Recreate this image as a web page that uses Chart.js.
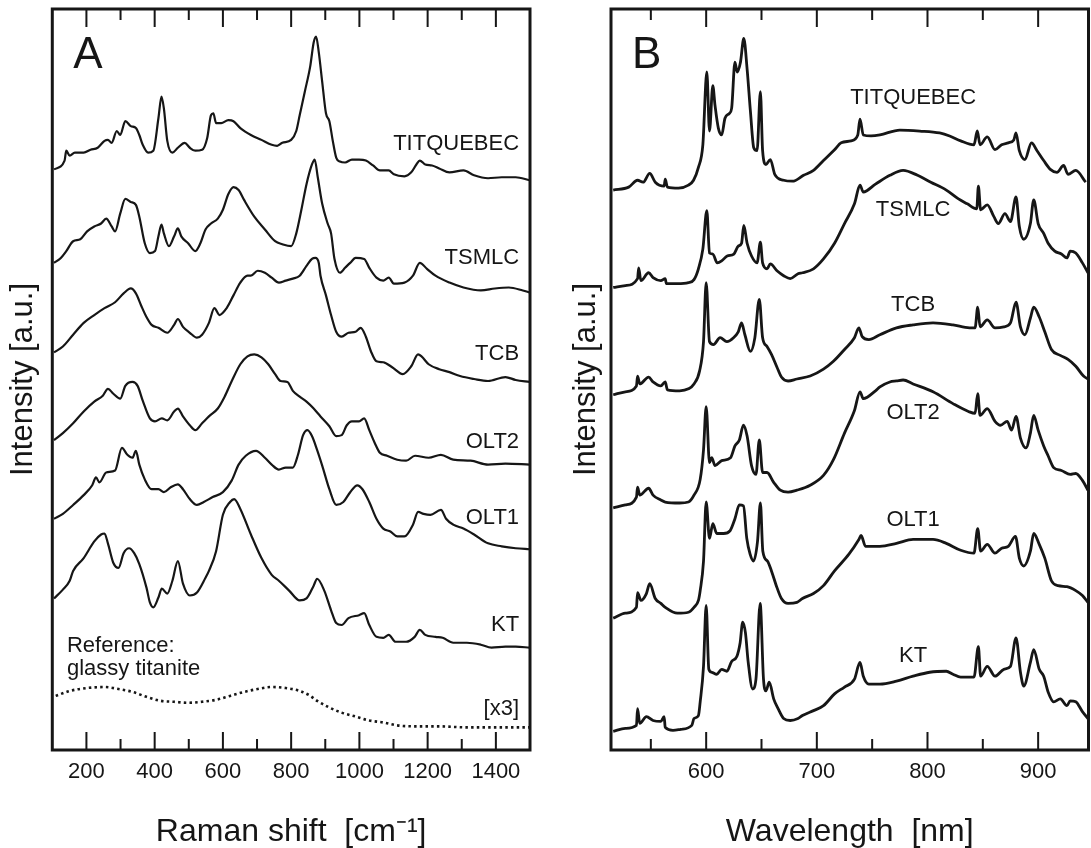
<!DOCTYPE html>
<html>
<head>
<meta charset="utf-8">
<title>Raman / PL spectra of titanite</title>
<script src="https://cdn.jsdelivr.net/npm/chart.js@4.4.0/dist/chart.umd.min.js"></script>
<style>
  html, body { margin: 0; padding: 0; background: #fff; }
  #wrap { position: relative; width: 1091px; height: 848px; }
  #chartA { position: absolute; left: 0; top: 0; }
  #chartB { position: absolute; left: 560px; top: 0; }
</style>
</head>
<body>
<div id="wrap">
  <canvas id="chartA" width="560" height="848"></canvas>
  <canvas id="chartB" width="531" height="848"></canvas>
</div>
<script>
/* ── panel A : Raman shift [cm-1] vs stacked intensity ── */
const ramanMajorTicks = [200, 400, 600, 800, 1000, 1200, 1400];
const ramanMinorTicks = [300, 500, 700, 900, 1100, 1300];

const ramanTitquebec = [[105,590],[136,599],[141,609],[151,604],[166,607],[192,607],[212,610],[233,612],[253,619],[263,620],[274,617],[289,629],[299,625],[314,639],[330,634],[345,632],[355,625],[365,615],[381,607],[396,609],[411,642],[420,664],[427,652],[437,619],[452,607],[468,612],[488,617],[503,612],[519,609],[539,610],[554,622],[565,645],[572,647],[580,637],[595,637],[616,640],[631,639],[651,632],[682,625],[713,620],[743,615],[759,614],[774,617],[800,620],[815,629],[825,645],[840,669],[856,695],[866,719],[873,725],[881,709],[891,679],[902,647],[912,639],[922,619],[932,602],[943,598],[958,597],[978,600],[999,600],[1019,599],[1040,594],[1060,589],[1086,589],[1101,585],[1132,583],[1152,587],[1167,595],[1177,599],[1193,595],[1213,594],[1234,591],[1264,587],[1305,589],[1336,584],[1377,581],[1417,582],[1458,582],[1499,579]];
const ramanTsmlc = [[105,495],[125,500],[141,507],[161,517],[182,519],[202,527],[223,532],[243,535],[258,540],[274,532],[284,527],[299,545],[314,560],[330,557],[345,554],[355,542],[371,515],[386,505],[401,507],[411,522],[420,534],[427,525],[442,512],[457,522],[468,530],[478,522],[498,515],[519,507],[534,515],[549,529],[565,535],[585,540],[600,549],[616,565],[631,572],[646,569],[662,559],[692,542],[723,529],[753,517],[774,514],[800,512],[815,525],[830,549],[845,575],[861,595],[869,600],[878,582],[891,555],[907,535],[917,525],[927,499],[943,485],[958,490],[973,495],[989,500],[1014,499],[1029,490],[1050,480],[1070,477],[1086,480],[1101,474],[1132,475],[1157,482],[1177,495],[1198,489],[1223,482],[1264,475],[1305,470],[1356,467],[1397,469],[1438,470],[1479,467],[1499,465]];
const ramanTcb = [[105,404],[131,410],[161,422],[192,434],[223,442],[253,449],[284,455],[309,464],[330,469],[345,464],[360,452],[376,440],[391,432],[411,429],[437,424],[457,432],[468,438],[483,430],[503,424],[524,419],[539,422],[559,434],[575,449],[590,442],[611,449],[631,462],[651,475],[672,482],[682,482],[702,487],[723,485],[743,480],[764,475],[784,477],[805,479],[825,482],[845,492],[861,499],[871,500],[881,495],[886,482],[902,462],[917,442],[932,425],[948,420],[968,424],[989,425],[1004,429],[1019,420],[1034,405],[1050,395],[1070,394],[1096,389],[1127,382],[1152,390],[1172,402],[1182,400],[1203,392],[1234,387],[1264,384],[1295,380],[1336,377],[1377,375],[1428,379],[1458,376],[1499,374]];
const ramanOlt2 = [[105,315],[131,322],[161,332],[192,344],[223,354],[248,360],[263,367],[279,362],[299,357],[314,370],[335,374],[350,370],[365,355],[386,337],[401,334],[421,337],[437,335],[457,344],[468,347],[483,339],[503,330],[519,325],[539,332],[559,339],[585,347],[605,359],[626,375],[651,392],[672,400],[692,402],[713,399],[733,392],[753,382],[769,375],[789,374],[805,365],[825,359],[845,354],[866,347],[886,339],[912,329],[932,319],[948,320],[963,330],[978,334],[999,334],[1014,337],[1029,325],[1045,312],[1060,302],[1081,299],[1111,295],[1137,294],[1163,299],[1203,297],[1239,300],[1275,295],[1326,294],[1377,290],[1428,291],[1499,290]];
const ramanOlt1 = [[105,235],[131,240],[161,249],[192,259],[217,269],[228,277],[238,272],[258,282],[284,284],[304,307],[320,300],[335,297],[345,304],[355,290],[371,275],[391,265],[411,265],[427,262],[447,267],[468,270],[483,265],[503,255],[524,249],[544,252],[570,257],[600,262],[626,274],[646,290],[667,299],[697,304],[723,297],[743,290],[764,285],[784,287],[805,287],[820,300],[835,320],[848,325],[861,319],[876,305],[891,289],[912,265],[932,249],[953,252],[973,262],[994,269],[1009,265],[1029,252],[1050,235],[1070,225],[1091,222],[1111,217],[1132,217],[1157,229],[1172,242],[1188,240],[1208,239],[1239,244],[1254,235],[1275,229],[1305,225],[1336,219],[1377,210],[1417,207],[1458,205],[1499,204]];
const ramanKt = [[105,154],[131,163],[151,172],[161,182],[192,195],[223,212],[243,219],[253,220],[263,210],[279,190],[294,185],[309,200],[325,205],[340,200],[355,189],[376,165],[386,150],[396,145],[411,155],[421,164],[437,159],[452,172],[468,192],[483,169],[503,157],[524,160],[549,175],[559,182],[580,202],[600,239],[621,252],[633,255],[651,245],[682,219],[713,195],[743,178],[764,172],[794,162],[825,152],[845,154],[866,167],[876,174],[897,162],[917,142],[932,129],[948,127],[968,134],[999,137],[1014,139],[1029,127],[1050,115],[1070,114],[1086,117],[1106,110],[1137,110],[1162,115],[1177,122],[1193,117],[1223,115],[1244,114],[1275,109],[1315,109],[1356,107],[1387,104],[1428,105],[1458,105],[1499,104]];
const ramanGlassyRef = [[110,55],[151,60],[202,63],[253,64],[294,62],[335,59],[376,54],[417,50],[457,49],[498,48],[539,49],[580,51],[621,55],[662,59],[702,62],[743,64],[784,63],[825,60],[856,55],[876,50],[907,44],[948,38],[989,34],[1029,30],[1070,28],[1111,25],[1172,24],[1234,24],[1315,23],[1397,23],[1499,23]];

/* ── panel B : wavelength [nm] ── */
const waveMajorTicks = [600, 700, 800, 900];
const waveMinorTicks = [550, 650, 750, 850];

const waveTitquebec = [[516,569],[530,572],[538,579],[543,577],[549,586],[554,577],[562,573],[563,580],[565,572],[575,571],[584,574],[588.6,579],[593,592],[597,615],[600.6,689],[603,629],[606,675],[608,655],[611,632],[614,625],[617,642],[621,647],[623,652],[626,699],[628,689],[631,699],[634,723],[637,692],[640,649],[643,612],[646,609],[649,669],[651,609],[654,595],[658,600],[662,585],[670,579],[678,578],[688,584],[697,589],[706,599],[716,610],[722,617],[731,619],[737,625],[739,641],[742,625],[749,624],[757,625],[775,630],[793,629],[811,627],[820,624],[830,619],[842,615],[845,629],[847.5,615],[854,623],[861,610],[867,615],[873,617],[878,620],[880,627],[883,609],[888,600],[894,617],[899,609],[905,599],[911,590],[917,587],[923,594],[927,585],[934,589],[943,577]];
const waveTsmlc = [[516,470],[527,472],[538,479],[539,490],[541,477],[548,485],[552,480],[559,477],[563,479],[564,474],[574,474],[584,475],[589,478],[593,489],[597,509],[600.6,548],[603,505],[606,504],[610,495],[614,497],[619,502],[625,504],[629,512],[632,515],[634,533],[637,515],[641,502],[646,495],[649,516],[651,495],[655,489],[658,494],[664,487],[670,482],[676,479],[683,484],[687,485],[697,489],[706,499],[716,515],[725,535],[734,555],[739,574],[742,567],[753,575],[766,584],[778,589],[791,584],[803,577],[817,569],[828,560],[836,555],[844.5,550],[846,573],[848,549],[854,554],[860,542],[864,535],[870,545],[875,537],[880,562],[883,532],[887,519],[893,535],[896,559],[900,535],[905,525],[909,515],[915,507],[921,504],[926,500],[929,507],[934,505],[940,495],[945,485]];
const waveTcb = [[516,361],[527,364],[537,370],[538,380],[540,372],[548,379],[552,374],[559,370],[563,374],[565,366],[576,365],[584,367],[589,372],[594,385],[597.6,415],[600,475],[603,415],[606.6,412],[612.6,419],[618.7,415],[624.7,419],[629,425],[632,434],[635,422],[640,405],[644,419],[648,458],[651,419],[655,410],[659,402],[664,389],[668,379],[674,375],[682,377],[694,380],[706,387],[715,395],[725,407],[734,419],[738,429],[741,420],[747,417],[757,422],[772,429],[787,432],[805,434],[823,432],[838,429],[843,429],[845.4,450],[847.5,430],[854,437],[861,429],[869,430],[875,434],[880,455],[884,430],[888,422],[893,439],[896,450],[901,440],[906,425],[912,407],[920,401],[927,397],[934,390],[941,380],[945,377]];
const waveOlt2 = [[516,246],[527,249],[537,257],[538,267],[540,259],[548,266],[552,259],[559,254],[563,252],[576,251],[584,252],[589,259],[594.6,275],[597.6,305],[600,349],[603,292],[605,297],[608,289],[614,294],[622,297],[626,309],[630,315],[633.7,330],[637,319],[641,289],[645,280],[648,315],[651,282],[655,282],[661,272],[667,264],[674,262],[682,264],[694,269],[706,279],[715,295],[725,322],[734,345],[739,364],[742,357],[753,365],[757,369],[766,374],[772,375],[778,376],[787,372],[805,364],[823,352],[837,344],[843,342],[845.4,362],[847.5,340],[854,347],[861,334],[866,330],[872,334],[876,325],[880,339],[884,317],[889,307],[893,322],[896,340],[900,325],[905,309],[909,299],[914,287],[921,284],[929,280],[934,281],[940,274],[945,264]];
const waveOlt1 = [[516,134],[527,139],[537,145],[538,160],[541,152],[546,159],[549,169],[554,154],[559,149],[563,145],[574,139],[584,140],[589,145],[593,152],[594.6,162],[597.6,192],[600,252],[603,215],[606,230],[609.6,220],[615.7,220],[621.7,223],[626,235],[630,249],[633.7,248],[636.7,215],[639.7,199],[642.8,192],[646.4,212],[649,251],[651.2,202],[655.4,192],[659,182],[664,165],[668,154],[674,149],[682,150],[687,154],[697,159],[706,167],[716,182],[729,199],[738,214],[740,218],[744,207],[757,207],[772,210],[787,214],[805,214],[817,210],[830,203],[842,200],[845.4,225],[848,202],[854,209],[861,200],[867,205],[873,207],[879.5,217],[883,195],[887,187],[893,202],[896,220],[901,209],[906,195],[912,172],[918,167],[926,166],[934,162],[940,157],[945,150]];
const waveKt = [[516,19],[527,22],[537,25],[538,42],[540,27],[546,34],[552,30],[559,29],[562,34],[563,23],[570,20],[577,21],[587,25],[589,32],[593,35],[594.6,49],[597.6,85],[600,147],[602.4,82],[605,79],[609.6,77],[614,82],[618.7,80],[623,90],[627.7,95],[630.7,109],[633,130],[635.5,119],[638,89],[642,62],[645,72],[648.8,149],[651.8,72],[654,60],[657,69],[661,52],[665,42],[670,32],[676,30],[683,32],[687,35],[697,40],[706,45],[716,57],[725,64],[734,72],[739,89],[742,75],[747,67],[757,67],[772,70],[787,75],[802,79],[817,80],[823,77],[830,74],[842,74],[846,105],[848,75],[854,85],[861,75],[869,82],[875,85],[880,114],[884,79],[887,65],[893,89],[896,102],[901,82],[905,75],[909,59],[914,49],[920,52],[926,45],[929,50],[934,49],[940,39],[945,32]];

const sampleNames = ['TITQUEBEC', 'TSMLC', 'TCB', 'OLT2', 'OLT1', 'KT'];

/* ── styling ── */
const INK  = '#161616';
const FONT = '"Liberation Sans", Arial, Helvetica, sans-serif';

const toPoints = pairs => pairs.map(([x, y]) => ({ x, y }));

/* frame, inward ticks on top+bottom, sample labels, panel letter */
const frameTicks = {
  id: 'frameTicks',
  afterDraw(chart, args, opts) {
    const { ctx, chartArea: a } = chart;
    const xs = chart.scales.x, ys = chart.scales.y;
    ctx.save();
    ctx.strokeStyle = INK;
    ctx.lineWidth = 2;
    const mark = (v, len) => {
      const px = xs.getPixelForValue(v);
      ctx.beginPath();
      ctx.moveTo(px, a.bottom); ctx.lineTo(px, a.bottom - len);
      ctx.moveTo(px, a.top);    ctx.lineTo(px, a.top + len);
      ctx.stroke();
    };
    opts.major.forEach(v => mark(v, 18));
    opts.minor.forEach(v => mark(v, 11));
    ctx.lineWidth = 3;
    ctx.strokeRect(a.left, a.top, a.right - a.left, a.bottom - a.top);

    ctx.fillStyle = INK;
    ctx.font = `22px ${FONT}`;
    opts.labels.forEach(l => {
      ctx.textAlign = l.align;
      ctx.textBaseline = l.base || 'middle';
      ctx.fillText(l.text, xs.getPixelForValue(l.x), ys.getPixelForValue(l.y));
    });

    ctx.font = `44px ${FONT}`;
    ctx.textAlign = 'left';
    ctx.textBaseline = 'alphabetic';
    ctx.fillText(opts.letter, a.left + 21, a.top + 59);
    ctx.restore();
  }
};

function makePanel(id, p) {
  return new Chart(document.getElementById(id), {
    type: 'line',
    data: {
      datasets: p.series.map(s => ({
        data: toPoints(s.data),
        borderColor: INK,
        borderWidth: s.width,
        borderDash: s.dash || [],
        borderJoinStyle: 'round',
        cubicInterpolationMode: 'monotone',
        pointRadius: 0,
        fill: false
      }))
    },
    options: {
      responsive: false,
      animation: false,
      events: [],
      layout: { padding: p.padding },
      plugins: {
        legend: { display: false },
        tooltip: { enabled: false },
        frameTicks: { major: p.major, minor: p.minor, labels: p.labels, letter: p.letter }
      },
      scales: {
        x: {
          type: 'linear', min: p.min, max: p.max,
          afterBuildTicks: ax => { ax.ticks = p.major.map(v => ({ value: v })); },
          grid: { display: false, drawTicks: false },
          border: { display: false },
          ticks: { autoSkip: false, maxRotation: 0, padding: 11, color: INK,
                   callback: v => String(v),
                   font: { family: FONT, size: 22, lineHeight: 1 } },
          title: { display: true, text: p.xTitle, color: INK,
                   font: { family: FONT, size: 32, lineHeight: 1 },
                   padding: { top: 22, bottom: 0 } }
        },
        y: {
          type: 'linear', min: 0, max: 753,
          grid: { display: false, drawTicks: false },
          border: { display: false },
          ticks: { display: false },
          title: { display: true, text: 'Intensity [a.u.]', color: INK,
                   font: { family: FONT, size: 31, lineHeight: 1 },
                   padding: p.yTitlePad }
        }
      }
    },
    plugins: [frameTicks]
  });
}

const ramanSeries = [ramanTitquebec, ramanTsmlc, ramanTcb, ramanOlt2, ramanOlt1, ramanKt];
const ramanLabelY = [616, 500, 402, 313, 236, 127];
const waveSeries  = [waveTitquebec, waveTsmlc, waveTcb, waveOlt2, waveOlt1, waveKt];
const waveLabelY  = [663, 549, 452, 343, 234, 96];

makePanel('chartA', {
  min: 100, max: 1500,
  major: ramanMajorTicks, minor: ramanMinorTicks,
  xTitle: 'Raman shift  [cm\u207B\u00B9]',
  letter: 'A',
  padding: { left: 0, right: 30, top: 9, bottom: 0 },
  yTitlePad: { top: 7.5, bottom: 13.8 },
  series: ramanSeries.map(d => ({ data: d, width: 2.2 }))
    .concat([{ data: ramanGlassyRef, width: 2.6, dash: [2.5, 3.2] }]),
  labels: sampleNames.map((t, i) => ({ text: t, x: 1468, y: ramanLabelY[i], align: 'right' }))
    .concat([
      { text: 'Reference:', x: 143, y: 100, align: 'left', base: 'alphabetic' },
      { text: 'glassy titanite', x: 143, y: 76, align: 'left', base: 'alphabetic' },
      { text: '[x3]', x: 1468, y: 42, align: 'right' }
    ])
});

makePanel('chartB', {
  min: 514, max: 945.5,
  major: waveMajorTicks, minor: waveMinorTicks,
  xTitle: 'Wavelength  [nm]',
  letter: 'B',
  padding: { left: 0, right: 2.5, top: 9, bottom: 0 },
  yTitlePad: { top: 11.1, bottom: 8.9 },
  series: waveSeries.map(d => ({ data: d, width: 2.8 })),
  labels: sampleNames.map((t, i) => ({ text: t, x: 787, y: waveLabelY[i], align: 'center' }))
});
</script>
</body>
</html>
